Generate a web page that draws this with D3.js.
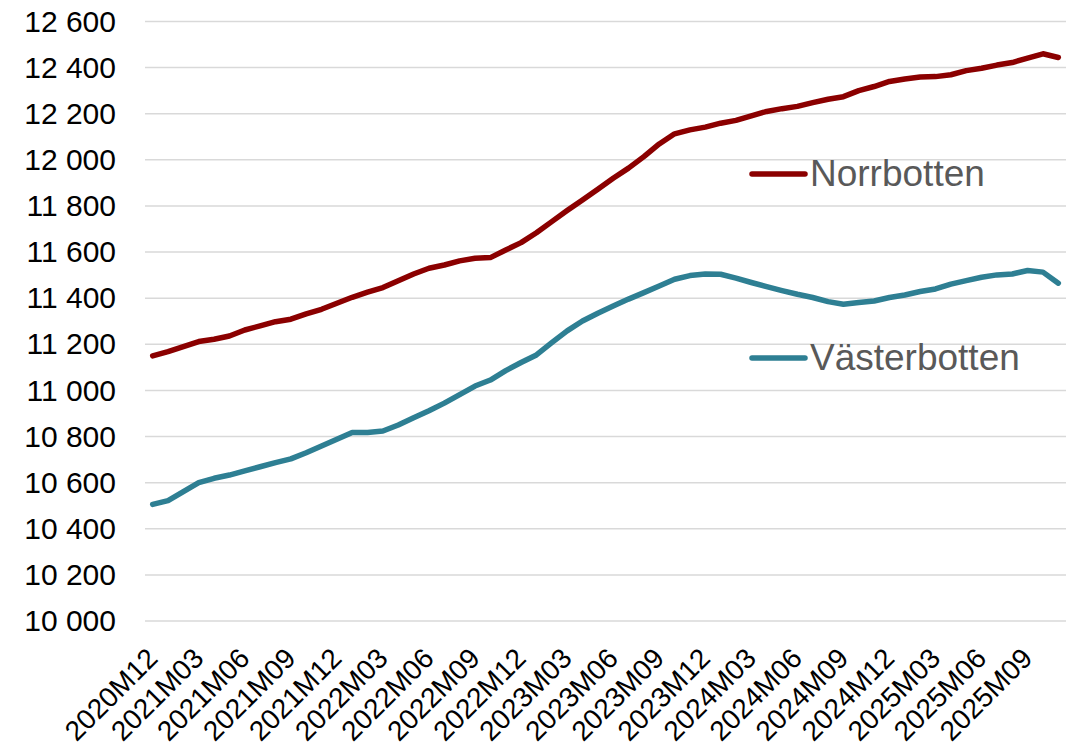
<!DOCTYPE html>
<html>
    <head>
        <meta charset="utf-8">
        <title>Norrbotten och Västerbotten</title>
        <style>
            body { margin: 0; background: #fff; }
            text { font-family: 'Liberation Sans', Arial, sans-serif; }
        </style>
        <script src="https://d3js.org/d3.v7.min.js"></script>
    </head>
    <body>
        <div id="chart"></div>
        <script>
            var months = [
                "2020M12",
                "2021M01", "2021M02", "2021M03", "2021M04", "2021M05", "2021M06",
                "2021M07", "2021M08", "2021M09", "2021M10", "2021M11", "2021M12",
                "2022M01", "2022M02", "2022M03", "2022M04", "2022M05", "2022M06",
                "2022M07", "2022M08", "2022M09", "2022M10", "2022M11", "2022M12",
                "2023M01", "2023M02", "2023M03", "2023M04", "2023M05", "2023M06",
                "2023M07", "2023M08", "2023M09", "2023M10", "2023M11", "2023M12",
                "2024M01", "2024M02", "2024M03", "2024M04", "2024M05", "2024M06",
                "2024M07", "2024M08", "2024M09", "2024M10", "2024M11", "2024M12",
                "2025M01", "2025M02", "2025M03", "2025M04", "2025M05", "2025M06",
                "2025M07", "2025M08", "2025M09", "2025M10", "2025M11"
            ];
            var norrbotten = [
                11150, 11168, 11190, 11212, 11222, 11236, 11262, 11280, 11298, 11309,
                11332, 11352, 11378, 11404, 11426, 11446, 11476, 11505, 11530, 11544,
                11562, 11573, 11576, 11609, 11641, 11684, 11732, 11780, 11826, 11873,
                11920, 11964, 12014, 12069, 12113, 12130, 12142, 12159, 12171, 12191,
                12210, 12222, 12232, 12248, 12263, 12274, 12300, 12318, 12340, 12351,
                12359, 12361, 12369, 12387, 12397, 12411, 12422, 12441, 12460, 12444
            ];
            var vasterbotten = [
                10506, 10522, 10561, 10600, 10619, 10633, 10651, 10669, 10687, 10703,
                10730, 10759, 10788, 10818, 10818, 10824, 10850, 10881, 10912, 10945,
                10982, 11019, 11045, 11086, 11121, 11154, 11207, 11258, 11301, 11335,
                11366, 11396, 11424, 11453, 11482, 11498, 11505, 11504, 11487, 11468,
                11450, 11433, 11417, 11403, 11385, 11374, 11381, 11388, 11403, 11414,
                11429, 11440, 11461, 11476, 11491, 11501, 11505, 11520, 11513, 11465
            ];
            var yTicks = [10000, 10200, 10400, 10600, 10800, 11000, 11200, 11400,
                          11600, 11800, 12000, 12200, 12400, 12600];
            var xLabels = months.filter(function(m, i) { return i % 3 == 0; });
            var seriesNames = ["Norrbotten", "Västerbotten"];
            var seriesColors = ["#8b0000", "#2e7f93"];

            var width = 1071, height = 747;
            var plotLeft = 145, plotRight = 1066, plotTop = 21.5, plotBottom = 621;

            var svg = d3.select("#chart").append("svg")
                .attr("width", width)
                .attr("height", height);

            var x = d3.scalePoint().domain(months).range([plotLeft, plotRight]).padding(0.5);
            var y = d3.scaleLinear().domain([10000, 12600]).range([plotBottom, plotTop]);

            // gridlines
            svg.append("g").selectAll("line")
                .data(yTicks)
                .join("line")
                .attr("x1", plotLeft)
                .attr("x2", plotRight)
                .attr("y1", function(d) { return y(d); })
                .attr("y2", function(d) { return y(d); })
                .attr("stroke", "#d9d9d9")
                .attr("stroke-width", 1.5);

            // y axis labels
            var fmt = d3.formatLocale({decimal: ",", thousands: " ", grouping: [3], currency: ["", ""]}).format(",");
            var yAxis = svg.append("g")
                .attr("transform", "translate(" + plotLeft + ",0)")
                .call(d3.axisLeft(y).tickValues(yTicks).tickFormat(fmt).tickSize(0).tickPadding(29));
            yAxis.select(".domain").remove();
            yAxis.selectAll("text")
                .attr("font-size", 30)
                .attr("font-family", "'Liberation Sans', Arial, sans-serif")
                .attr("fill", "#000");

            // x axis labels
            var xAxis = svg.append("g")
                .attr("transform", "translate(0," + plotBottom + ")")
                .call(d3.axisBottom(x).tickValues(xLabels).tickSize(0));
            xAxis.select(".domain").remove();
            xAxis.selectAll("text")
                .attr("y", 0)
                .attr("dy", 0)
                .attr("text-anchor", "end")
                .attr("transform", "translate(6,39) rotate(-45)")
                .attr("font-size", 28)
                .attr("font-family", "'Liberation Sans', Arial, sans-serif")
                .attr("fill", "#000");

            // lines
            var line = d3.line()
                .x(function(d, i) { return x(months[i]); })
                .y(function(d) { return y(d); });

            var allSeries = [norrbotten, vasterbotten];
            svg.append("g").selectAll("path")
                .data(allSeries)
                .join("path")
                .attr("d", line)
                .attr("fill", "none")
                .attr("stroke", function(d, i) { return seriesColors[i]; })
                .attr("stroke-width", 5.5)
                .attr("stroke-linejoin", "round")
                .attr("stroke-linecap", "round");

            // legend
            var legendY = [174, 358];
            var legend = svg.append("g").selectAll("g")
                .data(seriesNames)
                .join("g")
                .attr("transform", function(d, i) { return "translate(752," + legendY[i] + ")"; });
            legend.append("line")
                .attr("x1", 0)
                .attr("x2", 53)
                .attr("stroke", function(d, i) { return seriesColors[i]; })
                .attr("stroke-width", 5.5)
                .attr("stroke-linecap", "round");
            legend.append("text")
                .attr("x", 58)
                .attr("dy", "0.32em")
                .attr("font-size", 37)
                .attr("fill", "#595959")
                .text(function(d) { return d; });
        </script>
    </body>
</html>
